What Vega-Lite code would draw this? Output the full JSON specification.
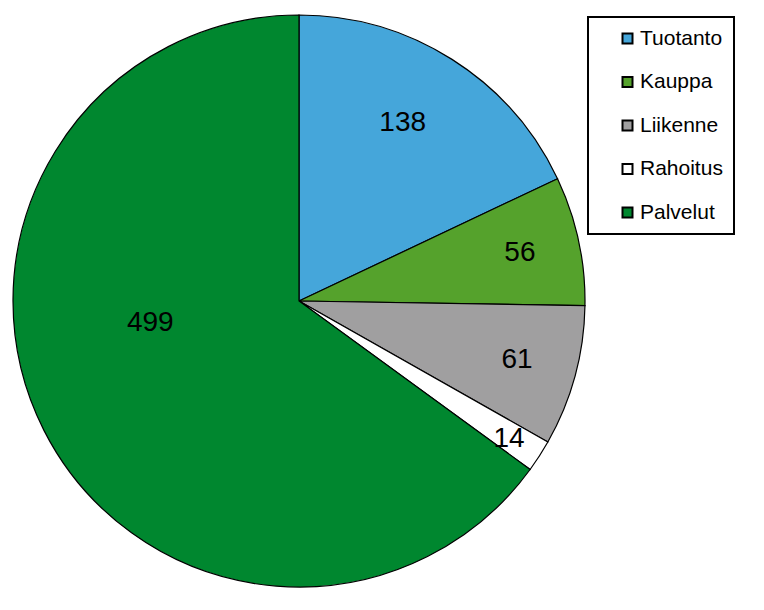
{
  "$schema": "https://vega.github.io/schema/vega-lite/v6.json",
  "width": 598,
  "height": 602,
  "autosize": "none",
  "padding": {"left": 0, "top": 0, "right": 166, "bottom": 8},
  "background": "white",
  "data": {
    "values": [
      {"sector": "Tuotanto", "value": 138, "i": 1},
      {"sector": "Kauppa", "value": 56, "i": 2},
      {"sector": "Liikenne", "value": 61, "i": 3},
      {"sector": "Rahoitus", "value": 14, "i": 4},
      {"sector": "Palvelut", "value": 499, "i": 5}
    ]
  },
  "encoding": {
    "theta": {"field": "value", "type": "quantitative", "stack": true},
    "order": {"field": "i", "type": "quantitative"}
  },
  "layer": [
    {
      "mark": {"type": "arc", "radius": 286, "stroke": "black", "strokeWidth": 1.2},
      "encoding": {
        "color": {
          "field": "sector",
          "type": "nominal",
          "scale": {
            "domain": ["Tuotanto", "Kauppa", "Liikenne", "Rahoitus", "Palvelut"],
            "range": ["#45A6DA", "#55A22C", "#A09FA0", "#FFFFFF", "#00872F"]
          },
          "legend": {
            "orient": "none",
            "legendX": 588,
            "legendY": 17,
            "title": null,
            "symbolType": "square",
            "symbolSize": 100,
            "symbolStrokeColor": "black",
            "symbolStrokeWidth": 2,
            "labelFont": "Liberation Sans",
            "labelFontSize": 21,
            "labelColor": "black",
            "labelLimit": 400,
            "strokeColor": "black",
            "padding": 11,
            "rowPadding": 21.5,
            "symbolOffset": 18,
            "labelOffset": 2,
            "labelExpr": "datum.label + '\u2003\u2003'"
          }
        }
      }
    },
    {
      "mark": {"type": "text", "radius": 205, "dx": -6, "dy": -5, "font": "Liberation Sans", "fontSize": 28, "color": "black"},
      "encoding": {"text": {"condition": {"test": "datum.sector === 'Tuotanto'", "field": "value"}, "value": ""}}
    },
    {
      "mark": {"type": "text", "radius": 226, "font": "Liberation Sans", "fontSize": 28, "color": "black"},
      "encoding": {"text": {"condition": {"test": "datum.sector === 'Kauppa' || datum.sector === 'Liikenne'", "field": "value"}, "value": ""}}
    },
    {
      "mark": {"type": "text", "radius": 250, "dy": 3, "font": "Liberation Sans", "fontSize": 28, "color": "black"},
      "encoding": {"text": {"condition": {"test": "datum.sector === 'Rahoitus'", "field": "value"}, "value": ""}}
    },
    {
      "mark": {"type": "text", "radius": 150, "dx": -15, "dy": -46, "font": "Liberation Sans", "fontSize": 28, "color": "black"},
      "encoding": {"text": {"condition": {"test": "datum.sector === 'Palvelut'", "field": "value"}, "value": ""}}
    }
  ],
  "config": {
    "view": {"stroke": null},
    "legend": {"strokeWidth": 2}
  }
}
